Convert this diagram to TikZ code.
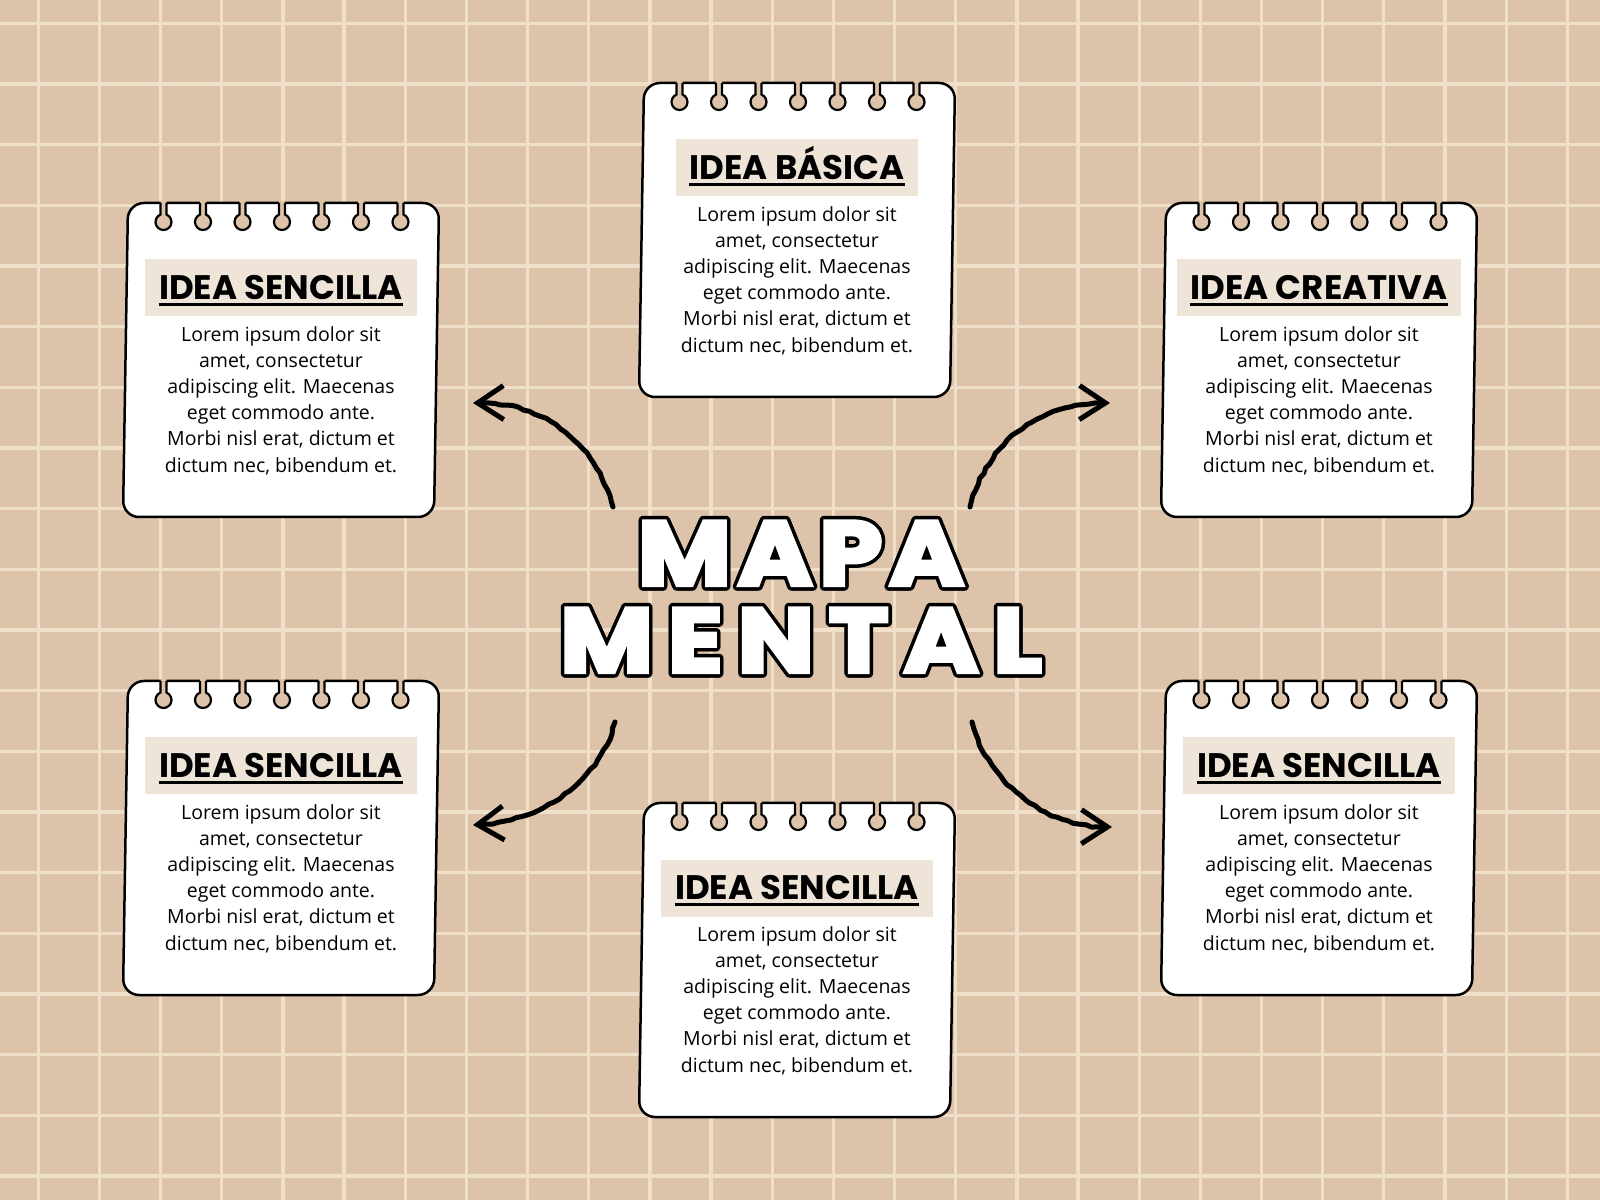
\documentclass[tikz,border=0pt]{standalone}
\usepackage{fontspec}
\usepackage{xcolor}
\usepackage{contour}
\usetikzlibrary{arrows.meta,decorations.pathmorphing}
\setmainfont{Open Sans}
\newfontfamily\titlefont{Poppins}
\newfontfamily\mapafont{Poppins}[FakeStretch=1.12,BoldFeatures={FakeBold=5}]
\definecolor{fondo}{HTML}{DCC3A9}
\definecolor{rejilla}{HTML}{F0E0CA}
\definecolor{banda}{HTML}{EFE4D8}
\contourlength{3.5pt}
\contournumber{16}

\begin{document}
\begin{tikzpicture}[x=1pt,y=1pt,
  hoja/.style={draw=black,line width=2.5pt,fill=white,rounded corners=16pt},
  banda/.style={fill=banda,inner xsep=14pt,inner ysep=0pt,minimum height=57pt,text height=23.5pt,text depth=0pt,font=\titlefont\bfseries\fontsize{34}{38}\selectfont},
  texto/.style={align=center,inner sep=0pt,anchor=north,font=\fontsize{19.5}{26.2}\selectfont},
  mapa/.style={align=center,inner sep=0pt,text=white,font=\mapafont\bfseries\fontsize{90}{87}\selectfont},
  flecha/.style={line width=5pt,line cap=round,line join=round,-{Straight Barb[length=26pt,width=34pt]},decorate,decoration={random steps,segment length=6pt,amplitude=0.9pt,post length=14pt}}]
\useasboundingbox (0,0) rectangle (1600,1200);
\fill[fondo] (0,0) rectangle (1600,1200);
% rejilla del fondo
\foreach \i in {0,...,25} \draw[rejilla,line width=3.3pt] (38.3+\i*61.16,0) -- ++(0,1200);
\foreach \j in {0,...,19} \draw[rejilla,line width=3.3pt] (0,1176.7-\j*60.67) -- ++(1600,0);

% hojas de libreta
\foreach \n/\cx/\cy/\t in {basica/797/960/IDEA BÁSICA, sencillaA/281/840/IDEA SENCILLA, creativa/1319/840/IDEA CREATIVA, sencillaB/281/362/IDEA SENCILLA, sencillaC/797/240/IDEA SENCILLA, sencillaD/1319/362/IDEA SENCILLA}{
  \draw[hoja] (\cx-153,\cy+157) -- (\cx+158,\cy+157) -- (\cx+153,\cy-157) -- (\cx-158,\cy-157) -- cycle;
  \foreach \k [evaluate=\k as \rx using \cx+1+39.5*\k] in {-3,...,3}{
    \fill[fondo] (\rx-3,\cy+159) -- (\rx-3,\cy+145.42) arc[start angle=112,end angle=428,radius=8] -- (\rx+3,\cy+159);
    \draw[line width=2.2pt] (\rx-3,\cy+157) -- (\rx-3,\cy+145.42) arc[start angle=112,end angle=428,radius=8] -- (\rx+3,\cy+157);
  }
  \node[banda] (\n-t) at (\cx,\cy+72) {\t};
  \draw[line width=3pt] ([xshift=14pt,yshift=-5pt]\n-t.base west) -- ([xshift=-14pt,yshift=-5pt]\n-t.base east);
  \node[texto] (\n-b) at (\cx,\cy+34) {Lorem ipsum dolor sit\\amet, consectetur\\adipiscing elit. Maecenas\\eget commodo ante.\\Morbi nisl erat, dictum et\\dictum nec, bibendum et.};
}

\node[mapa] (mapa) at (801,601.5) {\addfontfeature{LetterSpace=8}\contour{black}{MAPA}\\\addfontfeature{LetterSpace=17}\contour{black}{MENTAL}};

% flechas
\pgfmathsetseed{7}
\coordinate (nw-a) at (613,693); \coordinate (nw-b) at (473,797);
\coordinate (ne-a) at (970,693); \coordinate (ne-b) at (1110,797);
\coordinate (sw-a) at (615,478); \coordinate (sw-b) at (473,375);
\coordinate (se-a) at (972,478); \coordinate (se-b) at (1112,373);
\draw[flecha] (nw-a) .. controls +(-18,67) and +(67,3) .. (nw-b);
\draw[flecha] (ne-a) .. controls +(18,67) and +(-67,3) .. (ne-b);
\draw[flecha] (sw-a) .. controls +(-16,-62) and +(65,2) .. (sw-b);
\draw[flecha] (se-a) .. controls +(16,-62) and +(-65,-2) .. (se-b);
\end{tikzpicture}
\end{document}
